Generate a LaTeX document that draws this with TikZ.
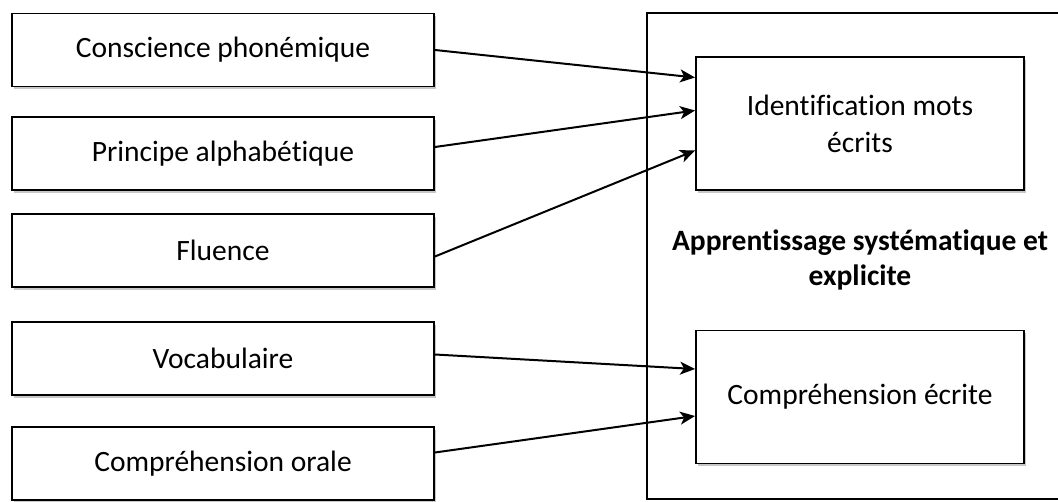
\documentclass[tikz,border=0pt]{standalone}
\usepackage{fontspec}
\setmainfont{Carlito}[Ligatures=NoCommon]
\usetikzlibrary{arrows.meta,shadows}
\tikzset{
  boite/.style={draw, line width=1.9pt, fill=white, inner sep=0pt,
    minimum width=422pt, minimum height=73pt,
    drop shadow={shadow xshift=1.5pt, shadow yshift=-3pt, fill=black!22, opacity=1}},
  cible/.style={boite, minimum width=328pt, minimum height=133pt, align=center},
  fleche/.style={->, line width=2pt}
}

\begin{document}
\begin{tikzpicture}[x=1pt, y=-1pt, >={Stealth[length=15pt,width=13pt,inset=4pt]},
    font=\fontsize{29.5pt}{37pt}\selectfont]
		\useasboundingbox (0,0) rectangle (1058,502);
		\clip (0,0) rectangle (1058,502);
		% Cadre apprentissage
		\node [draw, line width=1.2pt, minimum width=426pt, minimum height=486pt] (cadre) at (860,256) {};
		\node [font=\fontsize{29.5pt}{35pt}\selectfont\bfseries, align=center] (app) at (860,260) {Apprentissage systématique et\\explicite};
		% Composantes
		\node [boite] (cp) at (223,50) {Conscience phonémique};
		\node [boite] (pa) at (223,153.5) {Principe alphabétique};
		\node [boite] (fl) at (223,250.5) {Fluence};
		\node [boite] (vo) at (223,358.5) {Vocabulaire};
		\node [boite] (co) at (223,463.5) {Compréhension orale};
		% Cibles
		\node [cible] (idm) at (860,123.5) {Identification mots\\écrits};
		\node [cible] (ce) at (860,397) {Compréhension écrite};
		% Fleches
		\draw [fleche] (cp.east) -- ([yshift=46pt]idm.west);
		\draw [fleche] ([yshift=6.5pt]pa.east) -- ([yshift=13pt]idm.west);
		\draw [fleche] ([yshift=-6pt]fl.east) -- ([yshift=-27pt]idm.west);
		\draw [fleche] ([yshift=4pt]vo.east) -- ([yshift=28pt]ce.west);
		\draw [fleche] ([yshift=11pt]co.east) -- ([yshift=-19pt]ce.west);
	\end{tikzpicture}
\end{document}
